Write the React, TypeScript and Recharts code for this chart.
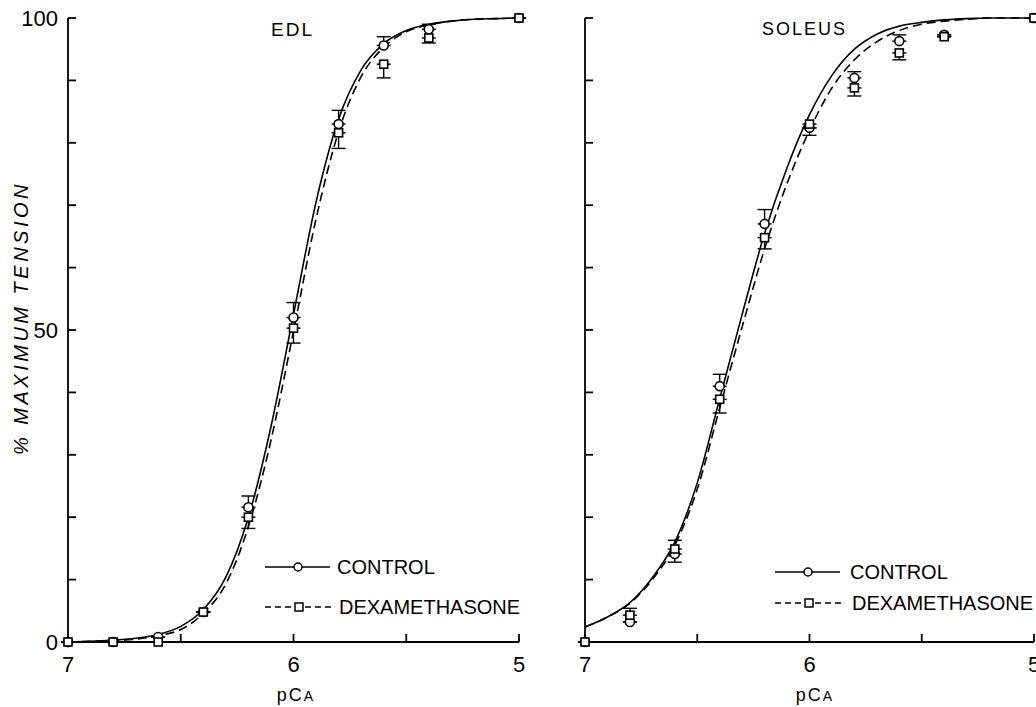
import { ComposedChart, Line, Scatter, XAxis, YAxis, ErrorBar, Customized } from "recharts";

// pCa grid used for the fitted curves (every 0.1 unit)
const pCaGrid = [7.0, 6.9, 6.8, 6.7, 6.6, 6.5, 6.4, 6.3, 6.2, 6.1, 6.0, 5.9, 5.8, 5.7, 5.6, 5.5, 5.4, 5.3, 5.2, 5.1, 5.0];

const edlControlFit = [0, 0.1, 0.3, 0.6, 1.2, 2.5, 5.2, 10.4, 20, 34.5, 52.5, 70.5, 83.8, 91.7, 95.9, 98, 99, 99.5, 99.8, 99.9, 100];
const edlDexaFit = [0, 0.1, 0.2, 0.45, 1.0, 2.0, 4.6, 9.3, 18.5, 32.3, 49.8, 67.8, 81.8, 90.6, 95.3, 97.8, 98.9, 99.5, 99.8, 99.9, 100];

const solControlFit = [2.4, 4, 6.3, 10.3, 16, 25.5, 39, 52.5, 65.5, 76, 84.5, 90.8, 95, 97.4, 98.7, 99.3, 99.7, 99.9, 100, 100, 100];
const solDexaFit = [2.4, 4, 6.2, 10, 15.5, 24.5, 37.5, 50.5, 63, 73.5, 82, 88.8, 93.3, 96.2, 98, 99, 99.5, 99.8, 100, 100, 100];

// measured points
const pCaObs = [7.0, 6.8, 6.6, 6.4, 6.2, 6.0, 5.8, 5.6, 5.4, 5.0];

const edlControlObs = [0, 0, 0.8, 4.8, 21.6, 52, 83, 95.6, 98.2, 100];
const edlControlErr = [[0, 0], [0, 0], [0, 0], [0, 0], [0, 1.8], [0, 2.4], [0, 2.2], [0, 1.4], [0, 0.8], [0, 0]];
const edlDexaObs = [0, 0, 0, 4.8, 20, 50.3, 81.6, 92.6, 96.8, 100];
const edlDexaErr = [[0, 0], [0, 0], [0, 0], [0, 0], [1.8, 0], [2.4, 0], [2.5, 0], [2.2, 0], [0.8, 0], [0, 0]];

const solControlObs = [0, 3.2, 14.1, 41, 67, 82.4, 90.4, 96.3, 97.3, 100];
const solControlErr = [[0, 0], [0, 0], [1.3, 0], [0, 1.9], [0, 2.3], [0, 0], [0, 1.0], [0, 1.0], [0, 0], [0, 0]];
const solDexaObs = [0, 4.3, 14.9, 38.9, 64.8, 83, 88.8, 94.4, 97, 100];
const solDexaErr = [[0, 0], [0, 1.1], [0, 1.4], [2.2, 0], [1.8, 0], [1.8, 0], [1.3, 0], [1.1, 0], [0, 0], [0, 0]];

const xTicks = [7, 6.5, 6, 5.5, 5];
const yTicks = [0, 10, 20, 30, 40, 50, 60, 70, 80, 90, 100];
const yLabelled = [0, 50, 100];

const FONT = '"Liberation Sans", Arial, sans-serif';
const INK = "#000";

const fitRows = (ctl: number[], dex: number[]) =>
  pCaGrid.map((p, i) => ({ pCa: p, control: ctl[i], dexa: dex[i] }));
const obsRows = (vals: number[], errs: number[][]) =>
  pCaObs.map((p, i) => ({ pCa: p, y: vals[i], err: errs[i] }));

const CircleMark = (props: any) => (
  <circle cx={props.cx} cy={props.cy} r={4.5} fill="#fff" stroke={INK} strokeWidth={1.6} />
);
const SquareMark = (props: any) => (
  <rect x={props.cx - 4} y={props.cy - 4} width={8} height={8} fill="#fff" stroke={INK} strokeWidth={1.6} />
);

interface PanelProps {
  width: number;
  left: number;
  yAxisWidth: number;
  marginRight: number;
  fitCtl: number[];
  fitDex: number[];
  ctlObs: number[];
  ctlErr: number[][];
  dexObs: number[];
  dexErr: number[][];
  showYLabels: boolean;
  overlay: () => JSX.Element;
}

function Panel(p: PanelProps) {
  const fits = fitRows(p.fitCtl, p.fitDex);
  return (
    <div style={{ position: "absolute", left: p.left, top: 0 }}>
      <ComposedChart
        width={p.width}
        height={707}
        margin={{ top: 18, right: p.marginRight, bottom: 0, left: 8 }}
      >
        <XAxis
          type="number"
          dataKey="pCa"
          domain={[5, 7]}
          reversed
          ticks={xTicks}
          interval={0}
          height={65}
          tickSize={-8}
          tickMargin={22}
          stroke={INK}
          strokeWidth={1.8}
          tick={{ fill: INK, fontSize: 22, fontFamily: FONT }}
          tickFormatter={(v: number) => (v % 1 === 0 ? String(v) : "")}
        />
        <YAxis
          type="number"
          domain={[0, 100]}
          ticks={yTicks}
          interval={0}
          width={p.yAxisWidth}
          tickSize={-8}
          tickMargin={18}
          stroke={INK}
          strokeWidth={1.8}
          tick={{ fill: INK, fontSize: 22, fontFamily: FONT }}
          tickFormatter={(v: number) => (p.showYLabels && yLabelled.includes(v) ? String(v) : "")}
        />
        <Line data={fits} dataKey="control" type="monotone" dot={false} stroke={INK} strokeWidth={1.6} isAnimationActive={false} />
        <Line data={fits} dataKey="dexa" type="monotone" dot={false} stroke={INK} strokeWidth={1.6} strokeDasharray="9 5" isAnimationActive={false} />
        <Scatter data={obsRows(p.ctlObs, p.ctlErr)} dataKey="y" shape={CircleMark} isAnimationActive={false}>
          <ErrorBar dataKey="err" direction="y" width={7} stroke={INK} strokeWidth={1.4} />
        </Scatter>
        <Scatter data={obsRows(p.dexObs, p.dexErr)} dataKey="y" shape={SquareMark} isAnimationActive={false}>
          <ErrorBar dataKey="err" direction="y" width={7} stroke={INK} strokeWidth={1.4} />
        </Scatter>
        <Customized component={p.overlay} />
      </ComposedChart>
    </div>
  );
}

function LegendRows({ x, yc, yd, textGap }: { x: number; yc: number; yd: number; textGap: number }) {
  return (
    <g fontFamily={FONT} fontSize={20} fill={INK}>
      <line x1={x} y1={yc} x2={x + 65} y2={yc} stroke={INK} strokeWidth={1.5} />
      <circle cx={x + 33} cy={yc} r={4} fill="#fff" stroke={INK} strokeWidth={1.5} />
      <text x={x + 65 + textGap} y={yc + 7}>CONTROL</text>
      <line x1={x} y1={yd} x2={x + 67} y2={yd} stroke={INK} strokeWidth={1.5} strokeDasharray="6 4" />
      <rect x={x + 30} y={yd - 4} width={8} height={8} fill="#fff" stroke={INK} strokeWidth={1.5} />
      <text x={x + 67 + textGap} y={yd + 7}>DEXAMETHASONE</text>
    </g>
  );
}

const PcaLabel = ({ cx }: { cx: number }) => (
  <text x={cx} y={701} textAnchor="middle" fontFamily={FONT} fontSize={18} letterSpacing={2} fill={INK}>
    pC<tspan fontSize={14}>A</tspan>
  </text>
);

const edlOverlay = () => (
  <g>
    <text
      x={28}
      y={318}
      transform="rotate(-90, 28, 318)"
      textAnchor="middle"
      fontFamily={FONT}
      fontStyle="italic"
      fontSize={20}
      letterSpacing={3.5}
      fill={INK}
    >
      % MAXIMUM TENSION
    </text>
    <text x={271} y={36} fontFamily={FONT} fontSize={19} letterSpacing={2} fill={INK}>EDL</text>
    <LegendRows x={265} yc={567} yd={607} textGap={7} />
    <PcaLabel cx={296} />
  </g>
);

const solOverlay = () => (
  <g>
    <text x={242} y={35} fontFamily={FONT} fontSize={18} letterSpacing={2} fill={INK}>SOLEUS</text>
    <LegendRows x={255} yc={572} yd={603} textGap={10} />
    <PcaLabel cx={295} />
  </g>
);

export default function App() {
  return (
    <div style={{ position: "absolute", left: 0, top: 0, width: 1036, height: 707, background: "#fff", overflow: "hidden" }}>
      <Panel
        width={540}
        left={0}
        yAxisWidth={60}
        marginRight={21}
        fitCtl={edlControlFit}
        fitDex={edlDexaFit}
        ctlObs={edlControlObs}
        ctlErr={edlControlErr}
        dexObs={edlDexaObs}
        dexErr={edlDexaErr}
        showYLabels
        overlay={edlOverlay}
      />
      <Panel
        width={516}
        left={520}
        yAxisWidth={57}
        marginRight={2}
        fitCtl={solControlFit}
        fitDex={solDexaFit}
        ctlObs={solControlObs}
        ctlErr={solControlErr}
        dexObs={solDexaObs}
        dexErr={solDexaErr}
        showYLabels={false}
        overlay={solOverlay}
      />
    </div>
  );
}
